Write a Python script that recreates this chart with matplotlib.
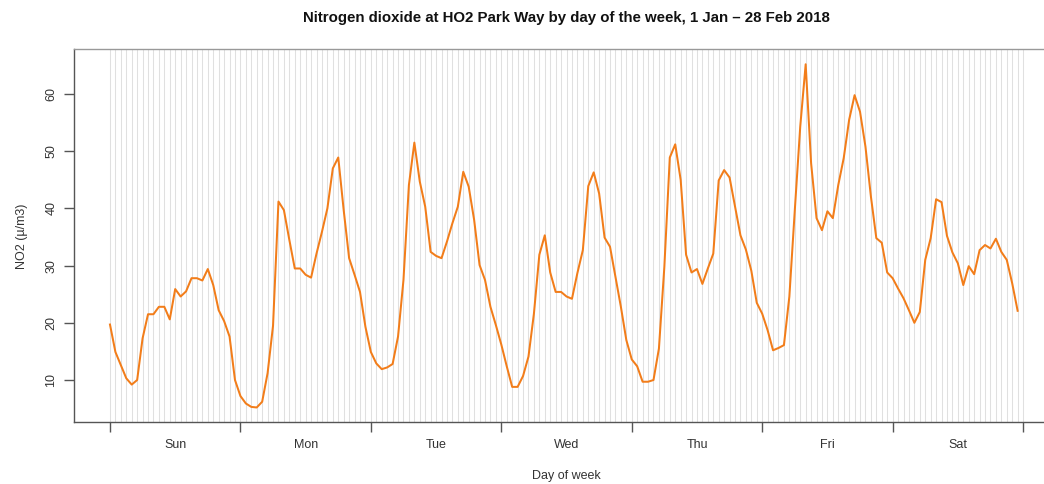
import matplotlib
matplotlib.use("Agg")
import matplotlib.pyplot as plt
import numpy as np

plt.rcParams['font.family'] = ['Liberation Sans', 'DejaVu Sans']

days = ["Sun", "Mon", "Tue", "Wed", "Thu", "Fri", "Sat"]
y_ticks = [10, 20, 30, 40, 50, 60]

no2 = [
    # Sun
    19.7, 14.9, 12.6, 10.3, 9.2, 10.0, 17.3, 21.5, 21.5, 22.8, 22.8, 20.6,
    25.9, 24.6, 25.5, 27.8, 27.8, 27.4, 29.4, 26.6, 22.2, 20.3, 17.6, 10.0,
    # Mon
    7.2, 5.9, 5.3, 5.2, 6.2, 11.2, 19.5, 41.2, 39.7, 34.5, 29.5, 29.5,
    28.4, 27.9, 32.1, 35.9, 40.0, 47.0, 48.9, 39.7, 31.3, 28.4, 25.4, 19.3,
    # Tue
    14.9, 12.9, 11.9, 12.2, 12.8, 17.6, 27.5, 44.1, 51.5, 44.7, 40.3, 32.4,
    31.7, 31.3, 34.2, 37.4, 40.3, 46.4, 43.8, 38.0, 30.1, 27.5, 22.8, 19.6,
    # Wed
    16.2, 12.4, 8.8, 8.8, 10.7, 14.1, 21.6, 31.9, 35.3, 28.8, 25.4, 25.4,
    24.6, 24.2, 28.7, 32.7, 43.9, 46.3, 42.6, 34.9, 33.3, 28.1, 22.8, 17.0,
    # Thu
    13.6, 12.4, 9.7, 9.7, 10.0, 15.5, 29.8, 48.9, 51.2, 45.0, 31.9, 28.8,
    29.4, 26.8, 29.5, 32.1, 44.9, 46.7, 45.4, 40.3, 35.3, 32.8, 29.1, 23.5,
    # Fri
    21.6, 18.7, 15.2, 15.6, 16.1, 24.6, 39.7, 54.3, 65.2, 47.9, 38.3, 36.2,
    39.5, 38.3, 44.1, 48.8, 55.5, 59.8, 56.9, 50.8, 42.1, 34.8, 34.0, 28.8,
    # Sat
    27.8, 26.0, 24.3, 22.2, 20.0, 21.9, 31.0, 34.8, 41.6, 41.1, 35.2, 32.3,
    30.4, 26.6, 29.9, 28.5, 32.7, 33.6, 33.0, 34.7, 32.4, 31.0, 26.9, 22.1,
]

hours = np.arange(len(no2))

fig = plt.figure(figsize=(10.44, 4.84), dpi=100)
ax = fig.add_axes([74/1044, 62/484, 970/1044, 373/484])

# hourly vertical grid lines
for h in range(0, 169):
    ax.axvline(h, color='#e0e0e0', lw=0.75, zorder=0)

ax.plot(hours, no2, color='#F27D1A', lw=1.45, zorder=3)

ax.set_xlim(-6.62, 171.85)
ax.set_ylim(2.66, 67.87)

# spines
ax.spines['right'].set_visible(False)
ax.spines['top'].set_color('#999999')
ax.spines['left'].set_color('#555555')
ax.spines['bottom'].set_color('#555555')
for s in ['top', 'left', 'bottom']:
    ax.spines[s].set_linewidth(1.0)

# y axis
ax.set_yticks(y_ticks)
ax.set_yticklabels([str(v) for v in y_ticks], rotation=90, va='center',
                   fontsize=9, color='#333333')
ax.tick_params(axis='y', length=7, width=1, color='#555555', pad=5)

# x axis: ticks at day boundaries, labels at mid-day
ax.set_xticks(np.arange(0, 169, 24))
ax.set_xticklabels([])
ax.tick_params(axis='x', which='major', length=7, width=1, color='#555555')
ax.set_xticks(np.arange(12, 168, 24), minor=True)
ax.set_xticklabels(days, minor=True, fontsize=9, color='#333333')
ax.tick_params(axis='x', which='minor', length=0, pad=12)

cx = 566 / 1044
fig.text(cx, 1 - 18/484, "Nitrogen dioxide at HO2 Park Way by day of the week, 1 Jan \u2013 28 Feb 2018",
         ha='center', va='center', fontsize=10.8, fontweight='bold', color='#111111')
fig.text(cx, 1 - 476/484, "Day of week", ha='center', va='center', fontsize=9, color='#333333')
fig.text(22/1044, 1 - 236/484, "NO2 (\u00b5/m3)", ha='center', va='center', rotation=90,
         fontsize=9, color='#333333')

fig.savefig("out.png", dpi=100)
